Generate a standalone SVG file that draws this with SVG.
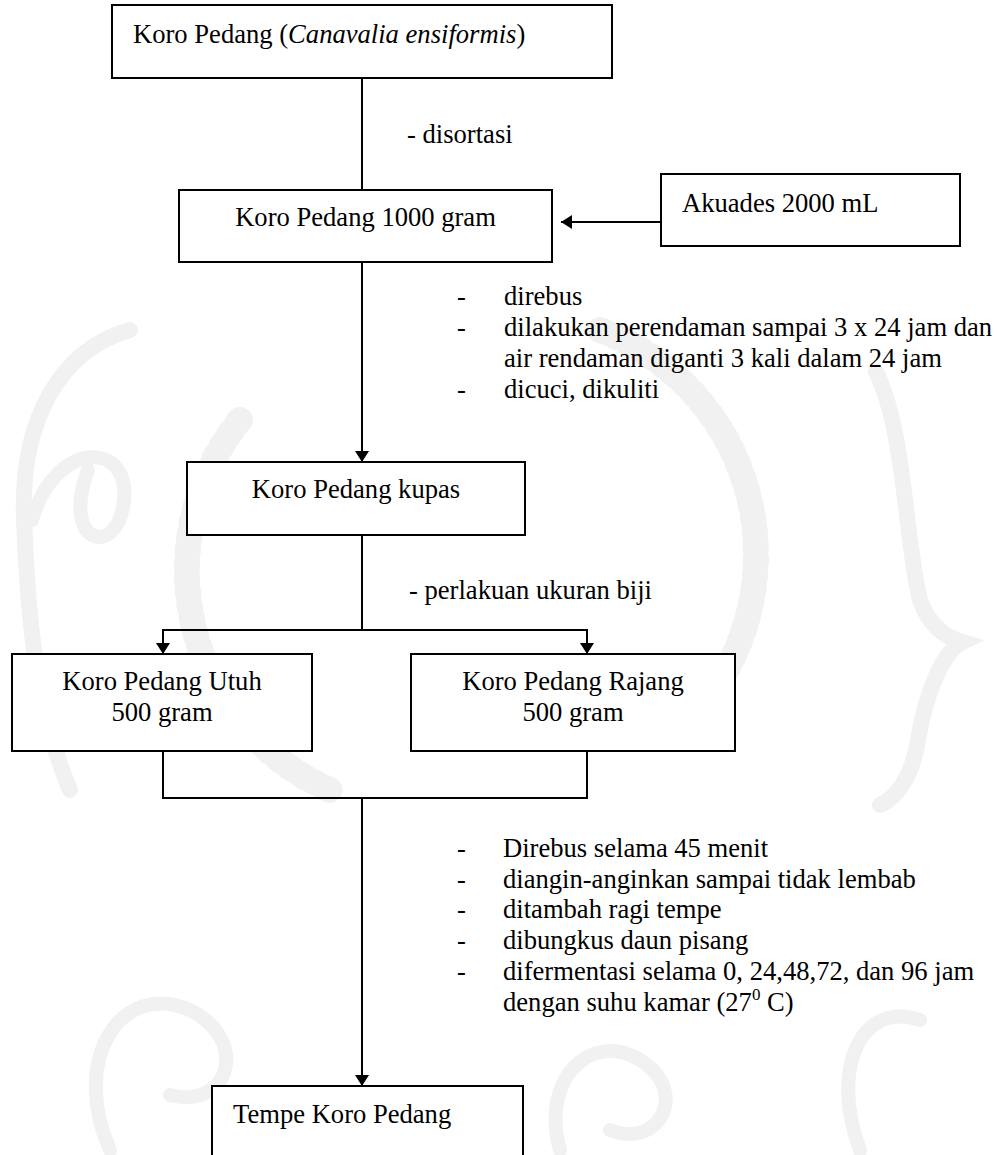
<svg xmlns="http://www.w3.org/2000/svg" width="997" height="1155" viewBox="0 0 997 1155">
  <style>
    text { font-family: "Liberation Serif", "Times New Roman", serif; font-size: 26.6px; fill: #000; }
    .box { fill: #fff; stroke: #000; stroke-width: 2; }
    .wire { fill: none; stroke: #000; stroke-width: 2; }
    .mid { text-anchor: middle; }
    .mark { fill: none; stroke: #f1f1f1; stroke-linecap: round; }
  </style>
  <defs>
    <marker id="arrow" viewBox="0 0 11 14" refX="11" refY="7" markerWidth="11" markerHeight="14" markerUnits="userSpaceOnUse" orient="auto">
      <path d="M0,0 L11,7 L0,14 Z" fill="#000"/>
    </marker>
  </defs>

  <rect width="997" height="1155" fill="#fff"/>

  <!-- faint background emblem -->
  <g id="emblem">
    <path class="mark" stroke-width="16" d="M130 330 C60 350 20 420 24 520 C28 620 36 710 70 790"/>
    <path class="mark" stroke-width="14" d="M32 520 C55 440 130 440 124 500 C118 560 60 545 88 470"/>
    <path class="mark" stroke-width="16" d="M876 372 C905 430 905 540 920 600 C930 628 948 638 962 642 C945 650 926 690 918 740 C912 778 896 798 880 805"/>
    <path class="mark" stroke-width="26" stroke-dasharray="5 9" stroke-linecap="butt" d="M240 420 A240 240 0 0 0 330 790"/>
    <path class="mark" stroke-width="26" stroke-dasharray="5 9" stroke-linecap="butt" d="M600 330 A240 240 0 0 1 690 720"/>
    <path class="mark" stroke-width="14" d="M110 1150 C70 1060 120 980 190 1010 C250 1040 230 1110 170 1095"/>
    <path class="mark" stroke-width="14" d="M560 1150 C540 1080 590 1030 640 1060 C690 1090 660 1150 610 1130"/>
    <path class="mark" stroke-width="14" d="M860 1150 C830 1070 860 1000 920 1020"/>
  </g>

  <!-- connectors -->
  <g id="connectors">
    <line class="wire" x1="362" y1="78" x2="362" y2="190"/>
    <line class="wire" x1="661" y1="222" x2="561" y2="222" marker-end="url(#arrow)"/>
    <line class="wire" x1="362" y1="262" x2="362" y2="462" marker-end="url(#arrow)"/>
    <line class="wire" x1="362" y1="535" x2="362" y2="630"/>
    <line class="wire" x1="162" y1="630" x2="588" y2="630"/>
    <line class="wire" x1="163" y1="630" x2="163" y2="654" marker-end="url(#arrow)"/>
    <line class="wire" x1="587" y1="630" x2="587" y2="654" marker-end="url(#arrow)"/>
    <polyline class="wire" points="163,751 163,798 587,798 587,751"/>
    <line class="wire" x1="362" y1="798" x2="362" y2="1086" marker-end="url(#arrow)"/>
  </g>

  <!-- step notes -->
  <g id="notes">
    <text x="407" y="143">- disortasi</text>

    <text x="457" y="305">-</text><text x="504" y="305">direbus</text>
    <text x="457" y="336">-</text><text x="504" y="336">dilakukan perendaman sampai 3 x 24 jam dan</text>
    <text x="504" y="367">air rendaman diganti 3 kali dalam 24 jam</text>
    <text x="457" y="398">-</text><text x="504" y="398">dicuci, dikuliti</text>

    <text x="409" y="599">- perlakuan ukuran biji</text>

    <text x="457" y="857">-</text><text x="503" y="857">Direbus selama 45 menit</text>
    <text x="457" y="888">-</text><text x="503" y="888">diangin-anginkan sampai tidak lembab</text>
    <text x="457" y="918">-</text><text x="503" y="918">ditambah ragi tempe</text>
    <text x="457" y="949">-</text><text x="503" y="949">dibungkus daun pisang</text>
    <text x="457" y="980">-</text><text x="503" y="980">difermentasi selama 0, 24,48,72, dan 96 jam</text>
    <text x="503" y="1011">dengan suhu kamar (27<tspan font-size="17" dy="-11">0</tspan><tspan dy="11"> C)</tspan></text>
  </g>

  <g id="koro-pedang">
    <rect class="box" x="112" y="5" width="500" height="73"/>
    <text x="133" y="43">Koro Pedang (<tspan font-style="italic">Canavalia ensiformis</tspan>)</text>
  </g>

  <g id="koro-1000">
    <rect class="box" x="179" y="190" width="373" height="72"/>
    <text class="mid" x="365.5" y="226">Koro Pedang 1000 gram</text>
  </g>

  <g id="akuades">
    <rect class="box" x="661" y="174" width="299" height="72"/>
    <text x="682" y="212">Akuades 2000 mL</text>
  </g>

  <g id="koro-kupas">
    <rect class="box" x="187" y="462" width="338" height="73"/>
    <text class="mid" x="356" y="498">Koro Pedang kupas</text>
  </g>

  <g id="koro-utuh">
    <rect class="box" x="12" y="654" width="300" height="97"/>
    <text class="mid" x="162" y="690">Koro Pedang Utuh</text>
    <text class="mid" x="162" y="721">500 gram</text>
  </g>

  <g id="koro-rajang">
    <rect class="box" x="411" y="654" width="324" height="97"/>
    <text class="mid" x="573" y="690">Koro Pedang Rajang</text>
    <text class="mid" x="573" y="721">500 gram</text>
  </g>

  <g id="tempe">
    <rect class="box" x="212" y="1086" width="311" height="90"/>
    <text x="233" y="1123">Tempe Koro Pedang</text>
  </g>
</svg>
